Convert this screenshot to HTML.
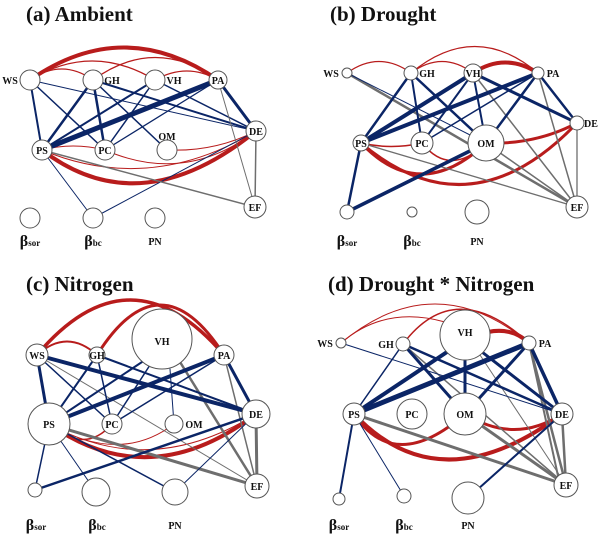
<!DOCTYPE html>
<html><head><meta charset="utf-8"><style>
html,body{margin:0;padding:0;background:#fff;}
svg{display:block;}
text{font-family:"Liberation Serif",serif;font-weight:bold;fill:#111;}
.t{font-size:21px;}
.n{font-size:10px;text-anchor:middle;}
.b{font-size:16px;text-anchor:middle;}
.r{stroke:#b81c1c;fill:none;stroke-linecap:round;}
.u{stroke:#0b2566;fill:none;stroke-linecap:round;}
.g{stroke:#6e6e6e;fill:none;stroke-linecap:round;}
circle{fill:#fff;stroke:#555;stroke-width:1;}
</style></head><body>
<svg width="600" height="539" viewBox="0 0 600 539">
<!-- Panel a -->
<text class="t" x="26" y="21">(a) Ambient</text>
<path class="r" stroke-width="4" d="M30,80 Q124,15 218,80"/>
<path class="r" stroke-width="1.3" d="M30,80 Q62,58 93,80"/>
<path class="r" stroke-width="1.3" d="M30,80 Q92,42 155,80"/>
<path class="r" stroke-width="1.3" d="M93,80 Q155,35 218,80"/>
<path class="r" stroke-width="1.3" d="M155,80 Q187,62 218,80"/>
<path class="r" stroke-width="4" d="M42,150 Q140,225 256,131"/>
<path class="r" stroke-width="1" d="M42,150 Q150,195 256,131"/>
<path class="r" stroke-width="1" d="M42,150 Q73,142 105,150"/>
<path class="r" stroke-width="1" d="M105,150 Q185,185 256,131"/>
<path class="r" stroke-width="1" d="M167,150 Q215,152 256,131"/>
<g class="u">
<line x1="30" y1="80" x2="42" y2="150" stroke-width="2"/>
<line x1="30" y1="80" x2="105" y2="150" stroke-width="1.5"/>
<line x1="30" y1="80" x2="256" y2="131" stroke-width="1"/>
<line x1="93" y1="80" x2="42" y2="150" stroke-width="2.5"/>
<line x1="93" y1="80" x2="105" y2="150" stroke-width="2.5"/>
<line x1="93" y1="80" x2="167" y2="150" stroke-width="1.5"/>
<line x1="93" y1="80" x2="256" y2="131" stroke-width="2"/>
<line x1="155" y1="80" x2="42" y2="150" stroke-width="2"/>
<line x1="155" y1="80" x2="105" y2="150" stroke-width="1.5"/>
<line x1="155" y1="80" x2="256" y2="131" stroke-width="1.5"/>
<line x1="218" y1="80" x2="42" y2="150" stroke-width="5"/>
<line x1="218" y1="80" x2="105" y2="150" stroke-width="1.3"/>
<line x1="218" y1="80" x2="256" y2="131" stroke-width="3"/>
<line x1="42" y1="150" x2="93" y2="218" stroke-width="1"/>
<line x1="93" y1="218" x2="256" y2="131" stroke-width="1"/>
</g>
<g class="g">
<line x1="218" y1="80" x2="255" y2="207" stroke-width="1"/>
<line x1="256" y1="131" x2="255" y2="207" stroke-width="1.5"/>
<line x1="42" y1="150" x2="255" y2="207" stroke-width="1.5"/>
</g>
<circle cx="30" cy="80" r="10"/><circle cx="93" cy="80" r="10"/><circle cx="155" cy="80" r="10"/><circle cx="218" cy="80" r="9"/>
<circle cx="256" cy="131" r="10"/><circle cx="42" cy="150" r="10"/><circle cx="105" cy="150" r="10"/><circle cx="167" cy="150" r="10"/>
<circle cx="255" cy="207" r="11"/><circle cx="30" cy="218" r="10"/><circle cx="93" cy="218" r="10"/><circle cx="155" cy="218" r="10"/>
<text class="n" x="10" y="84">WS</text><text class="n" x="112" y="84">GH</text><text class="n" x="174" y="84">VH</text>
<text class="n" x="218" y="84">PA</text><text class="n" x="256" y="135">DE</text><text class="n" x="42" y="154">PS</text>
<text class="n" x="105" y="154">PC</text><text class="n" x="167" y="140">OM</text><text class="n" x="255" y="211">EF</text>
<text class="b" x="30" y="246">β<tspan font-size="9">sor</tspan></text>
<text class="b" x="93" y="246">β<tspan font-size="9">bc</tspan></text>
<text class="n" x="155" y="245">PN</text>

<!-- Panel b -->
<text class="t" x="330" y="21">(b) Drought</text>
<path class="r" stroke-width="1.2" d="M347,73 Q379,50 411,73"/>
<path class="r" stroke-width="1.2" d="M411,73 Q475,20 538,73"/>
<path class="r" stroke-width="1.2" d="M411,73 Q442,50 473,73"/>
<path class="r" stroke-width="4" d="M473,73 Q505,52 538,73"/>
<path class="r" stroke-width="1.5" d="M361,143 Q391,150 422,143"/>
<path class="r" stroke-width="3" d="M361,143 Q420,205 486,143"/>
<path class="r" stroke-width="3" d="M361,143 Q470,235 577,123"/>
<path class="r" stroke-width="1.5" d="M422,143 Q450,178 486,143"/>
<path class="r" stroke-width="3" d="M486,143 Q535,145 577,123"/>
<g class="g">
<line x1="347" y1="73" x2="577" y2="207" stroke-width="2.5"/>
<line x1="473" y1="73" x2="577" y2="207" stroke-width="1.5"/>
<line x1="538" y1="73" x2="577" y2="207" stroke-width="1.5"/>
<line x1="486" y1="143" x2="577" y2="207" stroke-width="1.5"/>
<line x1="361" y1="143" x2="577" y2="207" stroke-width="1.3"/>
<line x1="577" y1="123" x2="577" y2="207" stroke-width="1.3"/>
</g>
<g class="u">
<line x1="347" y1="73" x2="486" y2="143" stroke-width="1"/>
<line x1="411" y1="73" x2="361" y2="143" stroke-width="2.5"/>
<line x1="411" y1="73" x2="422" y2="143" stroke-width="2"/>
<line x1="411" y1="73" x2="486" y2="143" stroke-width="2.5"/>
<line x1="473" y1="73" x2="361" y2="143" stroke-width="4"/>
<line x1="473" y1="73" x2="422" y2="143" stroke-width="2"/>
<line x1="473" y1="73" x2="486" y2="143" stroke-width="2"/>
<line x1="473" y1="73" x2="577" y2="123" stroke-width="3"/>
<line x1="538" y1="73" x2="361" y2="143" stroke-width="4"/>
<line x1="538" y1="73" x2="422" y2="143" stroke-width="1.5"/>
<line x1="538" y1="73" x2="486" y2="143" stroke-width="2.5"/>
<line x1="538" y1="73" x2="577" y2="123" stroke-width="2.5"/>
<line x1="361" y1="143" x2="347" y2="212" stroke-width="2.5"/>
<line x1="347" y1="212" x2="486" y2="143" stroke-width="3.5"/>
</g>
<circle cx="347" cy="73" r="5"/><circle cx="411" cy="73" r="7"/><circle cx="473" cy="73" r="9"/><circle cx="538" cy="73" r="6"/>
<circle cx="577" cy="123" r="7"/><circle cx="361" cy="143" r="8"/><circle cx="422" cy="143" r="11"/><circle cx="486" cy="143" r="18"/>
<circle cx="577" cy="207" r="11"/><circle cx="347" cy="212" r="7"/><circle cx="412" cy="212" r="5"/><circle cx="477" cy="212" r="12"/>
<text class="n" x="331" y="77">WS</text><text class="n" x="427" y="77">GH</text><text class="n" x="473" y="77">VH</text>
<text class="n" x="553" y="77">PA</text><text class="n" x="591" y="127">DE</text><text class="n" x="361" y="147">PS</text>
<text class="n" x="422" y="147">PC</text><text class="n" x="486" y="147">OM</text><text class="n" x="577" y="211">EF</text>
<text class="b" x="347" y="246">β<tspan font-size="9">sor</tspan></text>
<text class="b" x="412" y="246">β<tspan font-size="9">bc</tspan></text>
<text class="n" x="477" y="245">PN</text>

<!-- Panel c -->
<text class="t" x="26" y="291">(c) Nitrogen</text>
<path class="r" stroke-width="3.5" d="M37,355 Q130,245 224,355"/>
<path class="r" stroke-width="3" d="M97,355 Q160,255 224,355"/>
<path class="r" stroke-width="2" d="M37,355 Q67,328 97,355"/>
<path class="r" stroke-width="4" d="M49,424 Q150,495 256,414"/>
<path class="r" stroke-width="1.5" d="M49,424 Q85,455 112,424"/>
<path class="r" stroke-width="1" d="M49,424 Q120,465 174,424"/>
<path class="r" stroke-width="1" d="M49,424 Q150,480 256,414"/>
<g class="g">
<line x1="37" y1="355" x2="257" y2="486" stroke-width="1"/>
<line x1="180" y1="362" x2="257" y2="486" stroke-width="2.5"/>
<line x1="224" y1="355" x2="257" y2="486" stroke-width="1.5"/>
<line x1="256" y1="414" x2="257" y2="486" stroke-width="3"/>
<line x1="49" y1="424" x2="257" y2="486" stroke-width="3"/>
</g>
<g class="u">
<line x1="37" y1="355" x2="49" y2="424" stroke-width="3"/>
<line x1="37" y1="355" x2="256" y2="414" stroke-width="4"/>
<line x1="37" y1="355" x2="112" y2="424" stroke-width="1.5"/>
<line x1="97" y1="355" x2="49" y2="424" stroke-width="2"/>
<line x1="97" y1="355" x2="112" y2="424" stroke-width="1.5"/>
<line x1="97" y1="355" x2="256" y2="414" stroke-width="2"/>
<line x1="145" y1="360" x2="49" y2="424" stroke-width="2"/>
<line x1="150" y1="365" x2="112" y2="424" stroke-width="1.5"/>
<line x1="170" y1="369" x2="174" y2="424" stroke-width="1"/>
<line x1="224" y1="355" x2="49" y2="424" stroke-width="4"/>
<line x1="224" y1="355" x2="112" y2="424" stroke-width="1.5"/>
<line x1="224" y1="355" x2="256" y2="414" stroke-width="3"/>
<line x1="35" y1="490" x2="256" y2="414" stroke-width="2.5"/>
<line x1="49" y1="424" x2="35" y2="490" stroke-width="1.5"/>
<line x1="49" y1="424" x2="96" y2="492" stroke-width="1"/>
<line x1="49" y1="424" x2="175" y2="492" stroke-width="1.5"/>
<line x1="175" y1="492" x2="256" y2="414" stroke-width="1"/>
</g>
<circle cx="37" cy="355" r="11"/><circle cx="97" cy="355" r="8"/><circle cx="162" cy="339" r="30"/><circle cx="224" cy="355" r="10"/>
<circle cx="256" cy="414" r="14"/><circle cx="49" cy="424" r="21"/><circle cx="112" cy="424" r="10"/><circle cx="174" cy="424" r="9"/>
<circle cx="257" cy="486" r="12"/><circle cx="35" cy="490" r="7"/><circle cx="96" cy="492" r="14"/><circle cx="175" cy="492" r="13"/>
<text class="n" x="37" y="359">WS</text><text class="n" x="97" y="359" font-size="9">GH</text><text class="n" x="162" y="345">VH</text>
<text class="n" x="224" y="359">PA</text><text class="n" x="256" y="418">DE</text><text class="n" x="49" y="428">PS</text>
<text class="n" x="112" y="428">PC</text><text class="n" x="194" y="428">OM</text><text class="n" x="257" y="490">EF</text>
<text class="b" x="36" y="530">β<tspan font-size="9">sor</tspan></text>
<text class="b" x="97" y="530">β<tspan font-size="9">bc</tspan></text>
<text class="n" x="175" y="529">PN</text>

<!-- Panel d -->
<text class="t" x="328" y="291">(d) Drought * Nitrogen</text>
<path class="r" stroke-width="1" d="M341,343 Q435,265 529,343"/>
<path class="r" stroke-width="1" d="M341,343 Q385,305 445,322"/>
<path class="r" stroke-width="1.5" d="M403,344 Q455,275 529,343"/>
<path class="r" stroke-width="4" d="M488,332 Q512,327 529,343"/>
<path class="r" stroke-width="3" d="M354,414 Q395,475 465,414"/>
<path class="r" stroke-width="4" d="M354,414 Q440,505 562,414"/>
<path class="r" stroke-width="3" d="M465,414 Q515,445 562,414"/>
<g class="g">
<line x1="403" y1="344" x2="566" y2="485" stroke-width="1.5"/>
<line x1="480" y1="355" x2="566" y2="485" stroke-width="1"/>
<line x1="529" y1="343" x2="566" y2="485" stroke-width="2.5"/>
<line x1="529" y1="343" x2="560" y2="485" stroke-width="2"/>
<line x1="562" y1="414" x2="566" y2="485" stroke-width="2.5"/>
<line x1="354" y1="414" x2="566" y2="485" stroke-width="3"/>
<line x1="465" y1="414" x2="566" y2="485" stroke-width="3"/>
</g>
<g class="u">
<line x1="341" y1="343" x2="562" y2="414" stroke-width="1"/>
<line x1="403" y1="344" x2="354" y2="414" stroke-width="1.5"/>
<line x1="403" y1="344" x2="465" y2="414" stroke-width="3"/>
<line x1="403" y1="344" x2="562" y2="414" stroke-width="2.5"/>
<line x1="450" y1="350" x2="354" y2="414" stroke-width="4"/>
<line x1="465" y1="360" x2="465" y2="414" stroke-width="3"/>
<line x1="482" y1="352" x2="562" y2="414" stroke-width="3"/>
<line x1="529" y1="343" x2="354" y2="414" stroke-width="5"/>
<line x1="529" y1="343" x2="465" y2="414" stroke-width="3"/>
<line x1="529" y1="343" x2="562" y2="414" stroke-width="3.5"/>
<line x1="354" y1="414" x2="339" y2="499" stroke-width="2"/>
<line x1="354" y1="414" x2="404" y2="496" stroke-width="1"/>
<line x1="468" y1="498" x2="562" y2="414" stroke-width="2"/>
</g>
<circle cx="341" cy="343" r="5"/><circle cx="403" cy="344" r="7"/><circle cx="465" cy="335" r="25"/><circle cx="529" cy="343" r="7"/>
<circle cx="562" cy="414" r="11"/><circle cx="354" cy="414" r="11"/><circle cx="412" cy="414" r="15"/><circle cx="465" cy="414" r="21"/>
<circle cx="566" cy="485" r="12"/><circle cx="339" cy="499" r="6"/><circle cx="404" cy="496" r="7"/><circle cx="468" cy="498" r="16"/>
<text class="n" x="325" y="347">WS</text><text class="n" x="386" y="348">GH</text><text class="n" x="465" y="336">VH</text>
<text class="n" x="545" y="347">PA</text><text class="n" x="562" y="418" font-size="9">DE</text><text class="n" x="354" y="418">PS</text>
<text class="n" x="412" y="418">PC</text><text class="n" x="465" y="418">OM</text><text class="n" x="566" y="489">EF</text>
<text class="b" x="339" y="530">β<tspan font-size="9">sor</tspan></text>
<text class="b" x="404" y="530">β<tspan font-size="9">bc</tspan></text>
<text class="n" x="468" y="529">PN</text>
</svg>
</body></html>
